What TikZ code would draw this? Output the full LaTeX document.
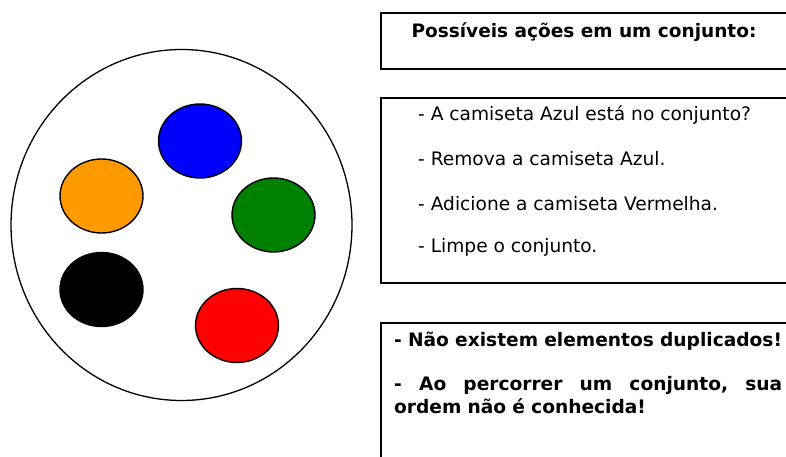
\documentclass[tikz,border=0pt]{standalone}
\usepackage{fontspec}
\setmainfont{DejaVu Sans}
\usetikzlibrary{shapes.geometric}
\definecolor{orangeC}{RGB}{255,153,0}
\definecolor{greenC}{RGB}{0,128,0}
\tikzset{
  ball/.style={ellipse, draw=black, line width=1.4pt, minimum width=83pt, minimum height=74pt, inner sep=0pt},
  panel/.style={draw=black, line width=1.6pt, fill=white, inner sep=0pt, anchor=north west},
  item/.style={anchor=west, font=\fontsize{18.6}{22}\selectfont, inner sep=0pt},
}
\begin{document}
\begin{tikzpicture}[x=1pt,y=-1pt]
\useasboundingbox (0,0) rectangle (786,457);
\clip (0,0) rectangle (786,457);
% set
\node[ellipse, draw=black, line width=1.3pt, minimum width=341pt, minimum height=351pt, inner sep=0pt] (set) at (181.5,225) {};
\node[ball, fill=blue] (blue) at (200,141) {};
\node[ball, fill=orangeC] (orange) at (101.5,196) {};
\node[ball, fill=greenC] (green) at (273.5,215) {};
\node[ball, fill=black] (black) at (101.5,289.5) {};
\node[ball, fill=red] (red) at (237,325.5) {};
% panels
\node[panel, minimum width=420pt, minimum height=56pt] (p1) at (380,12) {};
\node[font=\bfseries\fontsize{18.5}{22}\selectfont, inner sep=0pt] (t1) at (584,32) {Possíveis ações em um conjunto:};
\node[panel, minimum width=420pt, minimum height=185pt] (p2) at (380,97) {};
\node[item] (a1) at (418,115) {- A camiseta Azul está no conjunto?};
\node[item] (a2) at (418,159) {- Remova a camiseta Azul.};
\node[item] (a3) at (418,204) {- Adicione a camiseta Vermelha.};
\node[item] (a4) at (418,247) {- Limpe o conjunto.};
\node[panel, minimum width=420pt, minimum height=150pt] (p3) at (380,322) {};
\node[anchor=north west, inner sep=0pt, text width=388pt, font=\bfseries\fontsize{18.6}{23}\selectfont] (t3) at (394,332) {%
\noindent - Não existem elementos duplicados!\par\vspace{21pt}
\noindent\hbox to 388pt{-\hfill Ao\hfill percorrer\hfill um\hfill conjunto,\hfill sua}\par
\noindent ordem não é conhecida!};
\end{tikzpicture}
\end{document}
